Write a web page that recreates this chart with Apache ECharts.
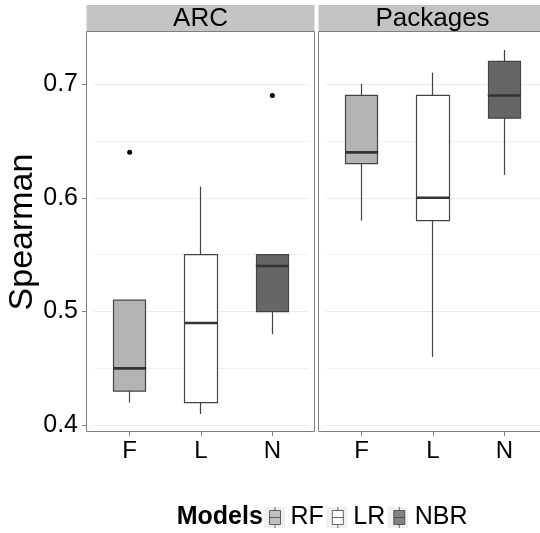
<!DOCTYPE html>
<html>
<head>
<meta charset="utf-8">
<script src="https://cdn.jsdelivr.net/npm/echarts@6/dist/echarts.min.js"></script>
<style>
  html, body { margin: 0; padding: 0; background: #fff; }
  #chart { width: 540px; height: 533px; }
</style>
</head>
<body>
<div id="chart"></div>
<script>
const categories = ['F', 'L', 'N'];
const models = ['RF', 'LR', 'NBR'];
const panels = ['ARC', 'Packages'];
// [min, Q1, median, Q3, max] for F, L, N
const arcStats = [
  [0.42, 0.43, 0.45, 0.51, 0.51],
  [0.41, 0.42, 0.49, 0.55, 0.61],
  [0.48, 0.50, 0.54, 0.55, 0.55]
];
const pkgStats = [
  [0.58, 0.63, 0.64, 0.69, 0.70],
  [0.46, 0.58, 0.60, 0.69, 0.71],
  [0.62, 0.67, 0.69, 0.72, 0.73]
];
const arcOutliers = [['F', 0.64], ['N', 0.69]];
const pkgOutliers = [];
const yTicks = [0.4, 0.5, 0.6, 0.7];
const yMinor = [0.45, 0.55, 0.65];

const fills = ['#b3b3b3', '#ffffff', '#666666'];
const lineCol = '#444444';
const font = 'Liberation Sans';
const panelLeft = [86.5, 318.5];
const keyLeft = [264, 326.3, 387.3];
const keyIcon = 'path://M0,0M21,21M5,3.5H16V17.5H5ZM5,10.5H16M10.5,0V3.5M10.5,17.5V21';

const chart = echarts.init(document.getElementById('chart'));

function boxSeries(stats, idx) {
  // candlestick: [open, close, lowest, highest] -> box Q1..Q3, whiskers min..max, no caps
  return {
    type: 'candlestick',
    xAxisIndex: idx,
    yAxisIndex: idx,
    barWidth: 33,
    z: 2,
    data: stats.map((s, i) => ({
      value: [s[1], s[3], s[0], s[4]],
      itemStyle: {
        color: fills[i], color0: fills[i],
        borderColor: lineCol, borderColor0: lineCol, borderWidth: 1.2
      }
    })),
    markLine: {
      silent: true,
      symbol: 'none',
      z: 1,
      animation: false,
      label: { show: false },
      lineStyle: { color: '#f2f2f2', type: 'solid', width: 1 },
      data: yMinor.map(v => ({ yAxis: v }))
    }
  };
}

function medianSeries(stats, idx) {
  return {
    type: 'scatter',
    xAxisIndex: idx,
    yAxisIndex: idx,
    symbol: 'rect',
    symbolSize: [33, 2.6],
    z: 3,
    itemStyle: { color: '#333333', opacity: 1 },
    data: stats.map((s, i) => [categories[i], s[2]])
  };
}

function outlierSeries(points, idx) {
  return {
    type: 'scatter',
    xAxisIndex: idx,
    yAxisIndex: idx,
    symbolSize: 5,
    z: 3,
    itemStyle: { color: '#000', opacity: 1 },
    data: points
  };
}

function xAxis(idx) {
  return {
    type: 'category',
    gridIndex: idx,
    data: categories,
    boundaryGap: true,
    axisLine: { show: false },
    axisTick: { show: true, alignWithLabel: true, length: 4, lineStyle: { color: '#7f7f7f' } },
    axisLabel: { fontSize: 24, color: '#000', margin: 7, fontFamily: font },
    splitLine: { show: false }
  };
}

function yAxis(idx) {
  return {
    type: 'value',
    gridIndex: idx,
    min: 0.3941,
    max: 0.7458,
    splitNumber: 4,
    offset: idx === 0 ? 7 : 0,
    axisLine: { show: false },
    axisTick: { show: idx === 0, length: 5, customValues: yTicks, lineStyle: { color: '#7f7f7f' } },
    axisLabel: {
      show: idx === 0, fontSize: 25, color: '#000', margin: 9, fontFamily: font,
      customValues: yTicks,
      formatter: v => v.toFixed(1)
    },
    splitLine: { show: true, lineStyle: { color: '#ebebeb' } },
    name: idx === 0 ? 'Spearman' : '',
    nameLocation: 'middle',
    nameGap: 43,
    nameTextStyle: { fontSize: 34, color: '#000', fontFamily: font }
  };
}

const graphic = [];
panels.forEach((p, i) => {
  graphic.push({
    type: 'rect', z: 50,
    shape: { x: panelLeft[i], y: 5, width: 228, height: 26.5 },
    style: { fill: '#c4c4c4' }
  });
  graphic.push({
    type: 'text', z: 51,
    x: panelLeft[i] + 114, y: 19,
    style: { text: p, fontSize: 26, fontFamily: font, fill: '#000', align: 'center', verticalAlign: 'middle' }
  });
  graphic.push({
    type: 'rect', z: 60,
    shape: { x: panelLeft[i], y: 31.5, width: 228, height: 400 },
    style: { fill: 'none', stroke: '#7f7f7f', lineWidth: 1 }
  });
});
keyLeft.forEach(x => {
  graphic.push({
    type: 'rect', z: 0,
    shape: { x: x, y: 507, width: 21, height: 21 },
    style: { fill: '#f0f0f0' }
  });
});
graphic.push({
  type: 'text', z: 51,
  x: 176.7, y: 517.5,
  style: { text: 'Models', fontSize: 25, fontWeight: 'bold', fontFamily: font, fill: '#000', align: 'left', verticalAlign: 'middle' }
});

chart.setOption({
  animation: false,
  backgroundColor: '#fff',
  textStyle: { fontFamily: font },
  grid: [
    { left: 94, top: 32, width: 214, height: 400 },
    { left: 326, top: 32, width: 214, height: 400 }
  ],
  xAxis: [xAxis(0), xAxis(1)],
  yAxis: [yAxis(0), yAxis(1)],
  legend: {
    left: 264,
    top: 505,
    padding: 0,
    itemWidth: 21,
    itemHeight: 21,
    itemGap: 3,
    textStyle: { fontSize: 25, color: '#000', fontFamily: font },
    data: models.map((m, i) => ({
      name: m,
      icon: keyIcon,
      itemStyle: { color: fills[i], borderColor: lineCol, borderWidth: 1 }
    }))
  },
  graphic: graphic,
  series: [
    boxSeries(arcStats, 0),
    boxSeries(pkgStats, 1),
    medianSeries(arcStats, 0),
    medianSeries(pkgStats, 1),
    outlierSeries(arcOutliers, 0),
    outlierSeries(pkgOutliers, 1)
  ].concat(models.map((m, i) => ({
    name: m,
    type: 'scatter',
    xAxisIndex: 0,
    yAxisIndex: 0,
    data: [],
    itemStyle: { color: fills[i], borderColor: lineCol, borderWidth: 1 }
  })))
});
</script>
</body>
</html>
